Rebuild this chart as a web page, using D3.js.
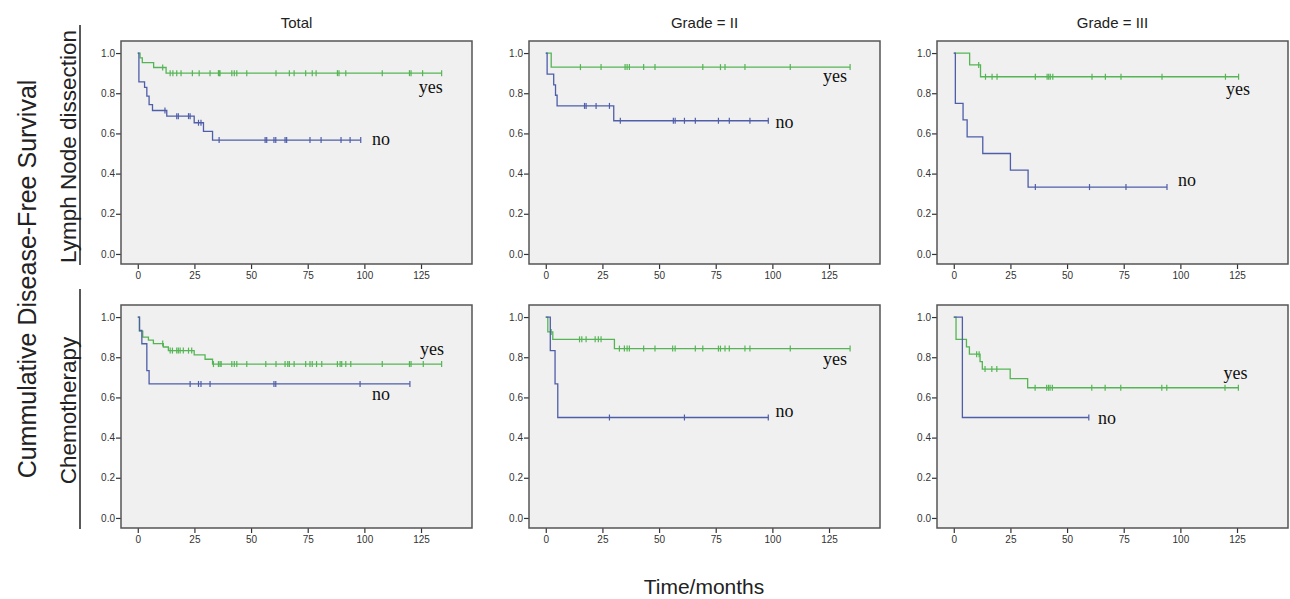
<!DOCTYPE html>
<html lang="en">
<head>
<meta charset="UTF-8">
<title>Disease-free survival</title>
<script src="https://d3js.org/d3.v7.min.js"></script>
<style>
  body { margin: 0; background: #fff; }
  svg { display: block; font-family: "Liberation Sans", Arial, sans-serif; }
</style>
</head>
<body>
<svg id="chart" width="1290" height="599"></svg>
<script>
// ---- data (months, cumulative survival) ----
const colTitles = ['Total', 'Grade = II', 'Grade = III'];
const rowTitles = ['Lymph Node dissection', 'Chemotherapy'];
const yTicks = [0, 0.2, 0.4, 0.6, 0.8, 1.0];
const xTicks = [0, 25, 50, 75, 100, 125];

// Lymph node dissection, Total
const lnTotalYesSteps = [[0, 1], [1, 0.976], [2, 0.952], [7, 0.928], [12.5, 0.9]];
const lnTotalYesCensor = [11, 14.3, 15.5, 17.2, 19.1, 24.1, 27.1, 31.9, 35.6, 36, 36.3, 41.5, 42.6, 43.7, 48.1, 61, 66.9, 69, 74.1, 77, 78.7, 88.1, 88.8, 91.8, 107.9, 119.9, 120.6, 125.7, 134.1];
const lnTotalNoSteps = [[0, 1], [0.5, 0.857], [3, 0.829], [4, 0.786], [5, 0.743], [6.5, 0.714], [12.8, 0.686], [24.9, 0.653], [29, 0.61], [33, 0.567]];
const lnTotalNoCensor = [12, 17.2, 17.9, 22.4, 23.1, 26.8, 27.9, 35.9, 56.2, 56.9, 60.1, 60.9, 65, 65.7, 76, 80.9, 89.7, 93.7, 98.4];

// Lymph node dissection, Grade II
const lnG2YesSteps = [[0, 1], [2.4, 0.93]];
const lnG2YesCensor = [15.3, 24.4, 35, 35.9, 36.9, 43.2, 48.2, 69.3, 77.1, 79.1, 87.9, 107.9, 134.3];
const lnG2NoSteps = [[0, 1], [0.6, 0.895], [3.5, 0.842], [4.3, 0.79], [5, 0.737], [30, 0.663]];
const lnG2NoCensor = [17.1, 17.8, 22.2, 28.1, 32.9, 56.3, 57.1, 61.2, 66, 76.2, 81, 90.1, 98.2];

// Lymph node dissection, Grade III
const lnG3YesSteps = [[0, 1], [7, 0.941], [11.8, 0.882]];
const lnG3YesCensor = [11, 14, 16.9, 19.1, 36, 41.2, 41.9, 42.6, 43.7, 61, 66.9, 73.8, 91.9, 119.9, 125.7];
const lnG3NoSteps = [[0, 1], [0.7, 0.75], [4.1, 0.667], [5.9, 0.583], [12.8, 0.5], [25, 0.417], [32.8, 0.333]];
const lnG3NoCensor = [36, 59.9, 76, 94.1];

// Chemotherapy, Total
const chTotalYesSteps = [[0, 1], [0.7, 0.93], [2.2, 0.9], [4.7, 0.885], [6.9, 0.868], [11.3, 0.851], [13.5, 0.833], [24.9, 0.812], [29.7, 0.79], [33, 0.766]];
const chTotalYesCensor = [11, 14.3, 15.3, 17.2, 17.9, 18.7, 20.1, 22.4, 23.8, 33.4, 35.6, 36.3, 36.8, 41.5, 42.6, 43.7, 48.1, 56.5, 61, 65, 66.2, 66.9, 69, 74.1, 76, 77, 78.9, 81.2, 88.1, 89.3, 90, 91.8, 94, 107.9, 119.9, 120.6, 126, 134.1];
const chTotalNoSteps = [[0, 1], [0.8, 0.933], [1.8, 0.867], [4, 0.733], [5, 0.667]];
const chTotalNoCensor = [23.1, 26.8, 27.9, 31.9, 60.1, 60.9, 98.1, 120.1];

// Chemotherapy, Grade II
const chG2YesSteps = [[0, 1], [0.9, 0.926], [3.1, 0.889], [30.3, 0.843]];
const chG2YesCensor = [2.4, 14.9, 15.9, 17.8, 21.8, 23.2, 24.4, 32.5, 34.7, 35.9, 36.9, 43.2, 48.2, 56, 57.1, 66, 69.3, 76.2, 77.1, 79.1, 81, 87.9, 90.1, 107.9, 134.3];
const chG2NoSteps = [[0, 1], [2, 0.833], [4.1, 0.667], [5.3, 0.5]];
const chG2NoCensor = [28.1, 61.2, 98.2];

// Chemotherapy, Grade III
const chG3YesSteps = [[0, 1], [1, 0.889], [5.6, 0.852], [6.9, 0.815], [11.6, 0.778], [12.6, 0.741], [24.9, 0.694], [32.6, 0.648]];
const chG3YesCensor = [10.1, 11.2, 13.8, 16.8, 19, 35.9, 41, 41.8, 42.5, 43.5, 60.9, 66.8, 73.7, 91.8, 94, 119.7, 125.6];
const chG3NoSteps = [[0, 1], [3.8, 0.5]];
const chG3NoCensor = [59.6];

// where the yes / no words sit, in (months, survival)
const yesLabelAt = [[124, 0.80], [122.3, 0.856], [120.1, 0.79], [124.6, 0.81], [122.3, 0.761], [119, 0.69]];
const noLabelAt = [[103.4, 0.54], [101.4, 0.627], [99, 0.338], [103.4, 0.587], [101.4, 0.502], [63.7, 0.468]];

const panels = [
  { yes: [lnTotalYesSteps, lnTotalYesCensor], no: [lnTotalNoSteps, lnTotalNoCensor] },
  { yes: [lnG2YesSteps, lnG2YesCensor], no: [lnG2NoSteps, lnG2NoCensor] },
  { yes: [lnG3YesSteps, lnG3YesCensor], no: [lnG3NoSteps, lnG3NoCensor] },
  { yes: [chTotalYesSteps, chTotalYesCensor], no: [chTotalNoSteps, chTotalNoCensor] },
  { yes: [chG2YesSteps, chG2YesCensor], no: [chG2NoSteps, chG2NoCensor] },
  { yes: [chG3YesSteps, chG3YesCensor], no: [chG3NoSteps, chG3NoCensor] }
];

// ---- layout ----
const svg = d3.select('#chart');
const boxW = 351, boxH = 223;
const boxLeft = [121, 529, 937];
const boxTop = [41, 305];
const green = '#55b555', blue = '#4e5ea9';

const x = d3.scaleLinear([-7.4, 147.5], [0, boxW]);
const y = d3.scaleLinear([-0.05, 1.06], [boxH, 0]);

function survAt (steps, t) {
  let v = 1;
  for (const s of steps) if (s[0] <= t) v = s[1];
  return v;
}

function drawCurve (g, steps, censor, color) {
  const end = d3.max(censor);
  const pts = steps.concat([[end, survAt(steps, end)]]);
  const line = d3.line().x(d => x(d[0])).y(d => y(d[1])).curve(d3.curveStepAfter);
  g.append('path')
    .attr('d', line(pts))
    .attr('fill', 'none')
    .attr('stroke', color)
    .attr('stroke-width', 1.3);
  g.selectAll(null)
    .data(censor)
    .enter()
    .append('line')
    .attr('x1', d => x(d)).attr('x2', d => x(d))
    .attr('y1', d => y(survAt(steps, d)) - 3)
    .attr('y2', d => y(survAt(steps, d)) + 3)
    .attr('stroke', color)
    .attr('stroke-width', 1.2);
}

panels.forEach((p, i) => {
  const col = i % 3, row = Math.floor(i / 3);
  const g = svg.append('g').attr('transform', `translate(${boxLeft[col]}, ${boxTop[row]})`);

  g.append('rect')
    .attr('width', boxW).attr('height', boxH)
    .attr('fill', '#f0f0f0');

  const yAxis = g.append('g')
    .call(d3.axisLeft(y).tickValues(yTicks).tickFormat(d3.format('.1f')).tickSize(5).tickPadding(1));
  const xAxis = g.append('g')
    .attr('transform', `translate(0, ${boxH})`)
    .call(d3.axisBottom(x).tickValues(xTicks).tickSize(5).tickPadding(3));
  [yAxis, xAxis].forEach(a => {
    a.select('.domain').remove();
    a.selectAll('line').attr('stroke', '#333').attr('stroke-width', 1.2);
    a.selectAll('text').attr('fill', '#333').style('font-size', '10px');
  });

  drawCurve(g, p.yes[0], p.yes[1], green);
  drawCurve(g, p.no[0], p.no[1], blue);

  g.append('rect')
    .attr('width', boxW).attr('height', boxH)
    .attr('fill', 'none')
    .attr('stroke', '#555')
    .attr('stroke-width', 1.5);

  [['yes', yesLabelAt[i]], ['no', noLabelAt[i]]].forEach(([t, at]) => {
    g.append('text')
      .attr('x', x(at[0])).attr('y', y(at[1]))
      .style('font-family', '"Liberation Serif", "Times New Roman", serif')
      .style('font-size', '18px')
      .attr('fill', '#111')
      .text(t);
  });
});

// column titles
colTitles.forEach((t, i) => {
  svg.append('text')
    .attr('x', boxLeft[i] + boxW / 2).attr('y', 28)
    .attr('text-anchor', 'middle')
    .style('font-size', '15px')
    .attr('fill', '#222')
    .text(t);
});

// row titles with bar
rowTitles.forEach((t, r) => {
  const cy = boxTop[r] + boxH / 2 - 6;
  svg.append('text')
    .attr('transform', `translate(76, ${cy}) rotate(-90)`)
    .attr('text-anchor', 'middle')
    .style('font-size', '22.5px')
    .attr('fill', '#222')
    .text(t);
  svg.append('line')
    .attr('x1', 80).attr('x2', 80)
    .attr('y1', boxTop[r] - 16).attr('y2', boxTop[r] + boxH + 1)
    .attr('stroke', '#222')
    .attr('stroke-width', 1.5);
});

svg.append('text')
  .attr('transform', 'translate(36, 279) rotate(-90)')
  .attr('text-anchor', 'middle')
  .style('font-size', '25px')
  .attr('fill', '#222')
  .text('Cummulative Disease-Free Survival');

svg.append('text')
  .attr('x', 704).attr('y', 594)
  .attr('text-anchor', 'middle')
  .style('font-size', '21px')
  .attr('fill', '#222')
  .text('Time/months');
</script>
</body>
</html>
